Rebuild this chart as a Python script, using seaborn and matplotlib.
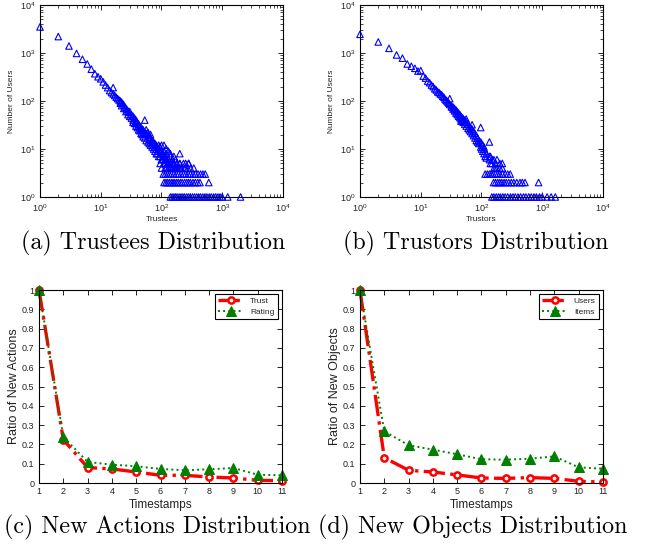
import matplotlib
matplotlib.use('Agg')
import matplotlib.pyplot as plt
import seaborn as sns
import pandas as pd

# (a) trustees distribution: main band of (trustees, users) pairs
trustee_x = [1, 2, 3, 4, 5, 6, 7, 8, 9, 10, 11, 12, 13, 14, 15, 16, 16, 17, 18, 19, 20,
             21, 21, 22, 22, 23, 24, 24, 25, 26, 26, 27, 28, 28, 29, 30, 30, 32, 32,
             34, 34, 34, 36, 36, 38, 38, 38, 40, 40, 42, 42, 42, 44, 44, 46, 46, 46,
             48, 48, 50, 50, 50, 53, 53, 53, 56, 56, 56, 60, 60, 60, 63, 63, 63,
             66, 66, 66, 70, 70, 70, 74, 74, 74, 78, 78, 78, 82, 82, 82, 86, 86, 86,
             90, 90, 90, 95, 95, 95, 100, 100, 100, 100, 105, 105, 105, 110, 110, 110, 110,
             115, 115, 115, 120, 120, 120, 120, 130, 130, 130, 130, 140, 140, 140, 140,
             150, 150, 150, 160, 160, 160, 170, 170, 180, 180, 200, 200, 200, 250, 250, 280]
trustee_y = [3500, 2200, 1400, 980, 740, 590, 460, 370, 320, 290, 250, 215, 190, 165, 150, 190, 140, 130, 120, 112, 105,
             100, 90, 95, 80, 88, 82, 70, 75, 70, 60, 66, 62, 52, 58, 60, 48, 52, 44,
             48, 40, 36, 44, 34, 40, 30, 35, 36, 28, 33, 25, 30, 30, 24, 28, 21, 25,
             26, 20, 25, 18, 22, 40, 22, 17, 21, 15, 25, 19, 14, 22, 18, 13, 16,
             17, 12, 20, 15, 11, 13, 14, 10, 12, 13, 9, 11, 12, 8, 10, 11, 8, 9,
             10, 7, 12, 9, 7, 11, 9, 6, 8, 12, 8, 6, 7, 7, 5, 9, 12,
             7, 5, 6, 6, 4, 8, 10, 6, 4, 5, 9, 5, 4, 7, 8,
             5, 4, 6, 4, 5, 7, 4, 6, 4, 5, 8, 4, 5, 4, 5, 5]
# (a) the flat rows at low user counts
trustee_row5 = [95, 110, 125, 140, 160, 180, 200, 230, 280]
trustee_row4 = [100, 115, 130, 150, 170, 190, 210, 240, 270, 300, 340]
trustee_row3 = [107, 115, 125, 135, 145, 160, 175, 190, 210, 230, 250, 275, 300, 330, 360, 400, 440, 480, 525]
trustee_row2 = [110, 118, 126, 135, 145, 155, 165, 178, 190, 205, 220, 240, 260, 280, 300, 330, 360, 395, 430, 600]
trustee_row1 = [140, 150, 160, 170, 180, 195, 210, 225, 240, 260, 280, 300, 325, 350, 380, 410, 440, 480,
                520, 560, 610, 660, 720, 780, 850, 920, 1000, 1230, 2000]

# (b) trustors distribution
trustor_x = [1, 2, 3, 4, 5, 6, 7, 8, 9, 10, 11, 12, 13, 14, 15, 16, 17, 18, 19, 20,
             21, 22, 23, 24, 25, 26, 27, 28, 29, 30, 30, 32, 32, 34, 34, 36, 36, 38, 38,
             40, 40, 42, 42, 44, 44, 46, 46, 46, 48, 48, 50, 50, 53, 53, 56, 56, 56,
             60, 60, 63, 63, 66, 66, 70, 70, 70, 74, 74, 78, 78, 82, 82, 86, 86, 90, 90,
             97, 97, 97, 100, 100, 105, 105, 110, 110, 110, 115, 115, 120, 120, 135, 135, 135,
             140, 140, 150, 150, 160, 160, 170, 170, 180, 180, 200, 200, 220, 220]
trustor_y = [2450, 1700, 1250, 910, 780, 590, 530, 480, 420, 430, 330, 300, 260, 240, 215, 200, 180, 170, 155, 150,
             140, 135, 125, 120, 110, 105, 100, 95, 90, 112, 85, 80, 75, 75, 68, 70, 62, 65, 56,
             60, 52, 56, 48, 52, 45, 48, 42, 38, 45, 40, 43, 36, 40, 33, 37, 30, 42,
             33, 27, 30, 25, 28, 23, 26, 21, 32, 23, 19, 21, 17, 19, 15, 17, 14, 15, 13,
             28, 14, 11, 13, 10, 12, 9, 11, 8, 10, 9, 7, 8, 6.5, 14, 7, 6,
             7, 5, 6, 5, 6, 4, 5, 4, 6, 4, 5, 4, 4, 5]
trustor_row3 = [115, 125, 135, 145, 155, 170, 185, 200, 220, 245, 270, 297]
trustor_row2 = [158, 170, 185, 200, 215, 235, 255, 280, 310, 340, 380, 430, 470, 520, 870]
trustor_row1 = [148, 160, 175, 190, 205, 225, 245, 270, 300, 330, 360, 400, 440, 490, 540, 600,
                660, 730, 800, 900, 1000, 1200, 1400, 1640]

# (c) and (d) ratios per timestamp
timestamps = [1, 2, 3, 4, 5, 6, 7, 8, 9, 10, 11]
trust_ratio = [1.0, 0.225, 0.080, 0.073, 0.057, 0.040, 0.040, 0.031, 0.026, 0.014, 0.012]
rating_ratio = [1.0, 0.239, 0.109, 0.095, 0.087, 0.073, 0.066, 0.071, 0.078, 0.043, 0.040]
users_ratio = [1.0, 0.131, 0.066, 0.057, 0.042, 0.026, 0.024, 0.028, 0.024, 0.009, 0.005]
items_ratio = [1.0, 0.268, 0.196, 0.173, 0.149, 0.123, 0.121, 0.126, 0.138, 0.081, 0.074]
ratio_ticks = [0, 0.1, 0.2, 0.3, 0.4, 0.5, 0.6, 0.7, 0.8, 0.9, 1]
ratio_labels = ['0', '0.1', '0.2', '0.3', '0.4', '0.5', '0.6', '0.7', '0.8', '0.9', '1']

sns.set_theme(style='ticks')
plt.rcParams['font.family'] = ['Liberation Sans', 'DejaVu Sans']
plt.rcParams['mathtext.default'] = 'regular'
plt.rcParams['axes.linewidth'] = 0.8
plt.rcParams['axes.edgecolor'] = 'black'
for a in ['xtick', 'ytick']:
    plt.rcParams[a + '.direction'] = 'in'
    plt.rcParams[a + '.major.size'] = 3.5
    plt.rcParams[a + '.minor.size'] = 2
    plt.rcParams[a + '.major.width'] = 0.6
    plt.rcParams[a + '.minor.width'] = 0.5
    plt.rcParams[a + '.labelsize'] = 6.5
    plt.rcParams[a + '.color'] = 'black'
    plt.rcParams[a + '.labelcolor'] = '#222222'
plt.rcParams['xtick.top'] = True
plt.rcParams['ytick.right'] = True

fig = plt.figure(figsize=(6.47, 5.44), dpi=100)


def make_frame(x, y, rows):
    xs = list(x)
    ys = list(y)
    for count, row in rows:
        xs += row
        ys += [count] * len(row)
    return pd.DataFrame({'x': xs, 'y': ys})


def log_panel(rect, df, xlabel):
    ax = fig.add_axes(rect)
    sns.scatterplot(data=df, x='x', y='y', ax=ax, marker='^', s=22,
                    facecolor='none', edgecolor='blue', linewidth=0.8, clip_on=False)
    ax.set_xscale('log')
    ax.set_yscale('log')
    ax.set_xlim(1, 1e4)
    ax.set_ylim(1, 1e4)
    ax.set_xlabel(xlabel, fontsize=6, color='#222222', labelpad=2)
    ax.set_ylabel('Number of Users', fontsize=6, color='#222222', labelpad=3)
    ax.tick_params(which='both', top=True, right=True)
    return ax


df_a = make_frame(trustee_x, trustee_y, [(5, trustee_row5), (4, trustee_row4), (3, trustee_row3),
                                         (2, trustee_row2), (1, trustee_row1)])
df_b = make_frame(trustor_x, trustor_y, [(3, trustor_row3), (2, trustor_row2), (1, trustor_row1)])

log_panel([0.0618, 0.6379, 0.3756, 0.3529], df_a, 'Trustees')
log_panel([0.5564, 0.6379, 0.3756, 0.3529], df_b, 'Trustors')


def ratio_panel(rect, first, second, names, ylabel):
    ax = fig.add_axes(rect)
    sns.lineplot(x=timestamps, y=first, ax=ax, color='red', linestyle='-.', linewidth=2.4,
                 marker='o', markersize=4.5, markerfacecolor='white', markeredgecolor='red',
                 markeredgewidth=1.8, label=names[0], clip_on=False)
    sns.lineplot(x=timestamps, y=second, ax=ax, color='green', linestyle=':', linewidth=1.4,
                 marker='^', markersize=7, markerfacecolor='green', markeredgecolor='green',
                 label=names[1], clip_on=False)
    ax.set_xlim(1, 11)
    ax.set_ylim(0, 1)
    ax.set_xticks(timestamps)
    ax.set_yticks(ratio_ticks)
    ax.set_yticklabels(ratio_labels)
    ax.set_xlabel('Timestamps', fontsize=8.5, color='#222222', labelpad=2)
    ax.set_ylabel(ylabel, fontsize=9, color='#222222', labelpad=1)
    ax.tick_params(axis='x', pad=3)
    leg = ax.legend(loc='upper right', fontsize=6, frameon=True, fancybox=False,
                    edgecolor='black', framealpha=1, handlelength=3, borderaxespad=0.5,
                    borderpad=0.4, labelspacing=0.3)
    leg.get_frame().set_linewidth(0.8)
    return ax


ratio_panel([0.0603, 0.1121, 0.3756, 0.3548], trust_ratio, rating_ratio,
            ['Trust', 'Rating'], 'Ratio of New Actions')
ratio_panel([0.5564, 0.1121, 0.3756, 0.3548], users_ratio, items_ratio,
            ['Users', 'Items'], 'Ratio of New Objects')

cap = dict(fontsize=17.3, family=['cmr10', 'DejaVu Serif'], ha='center', va='center', color='black')
fig.text(0.237, 0.553, '(a) Trustees Distribution', **cap)
fig.text(0.735, 0.553, '(b) Trustors Distribution', **cap)
fig.text(0.243, 0.031, '(c) New Actions Distribution', **cap)
fig.text(0.731, 0.031, '(d) New Objects Distribution', **cap)

fig.savefig('out.png', dpi=100)
